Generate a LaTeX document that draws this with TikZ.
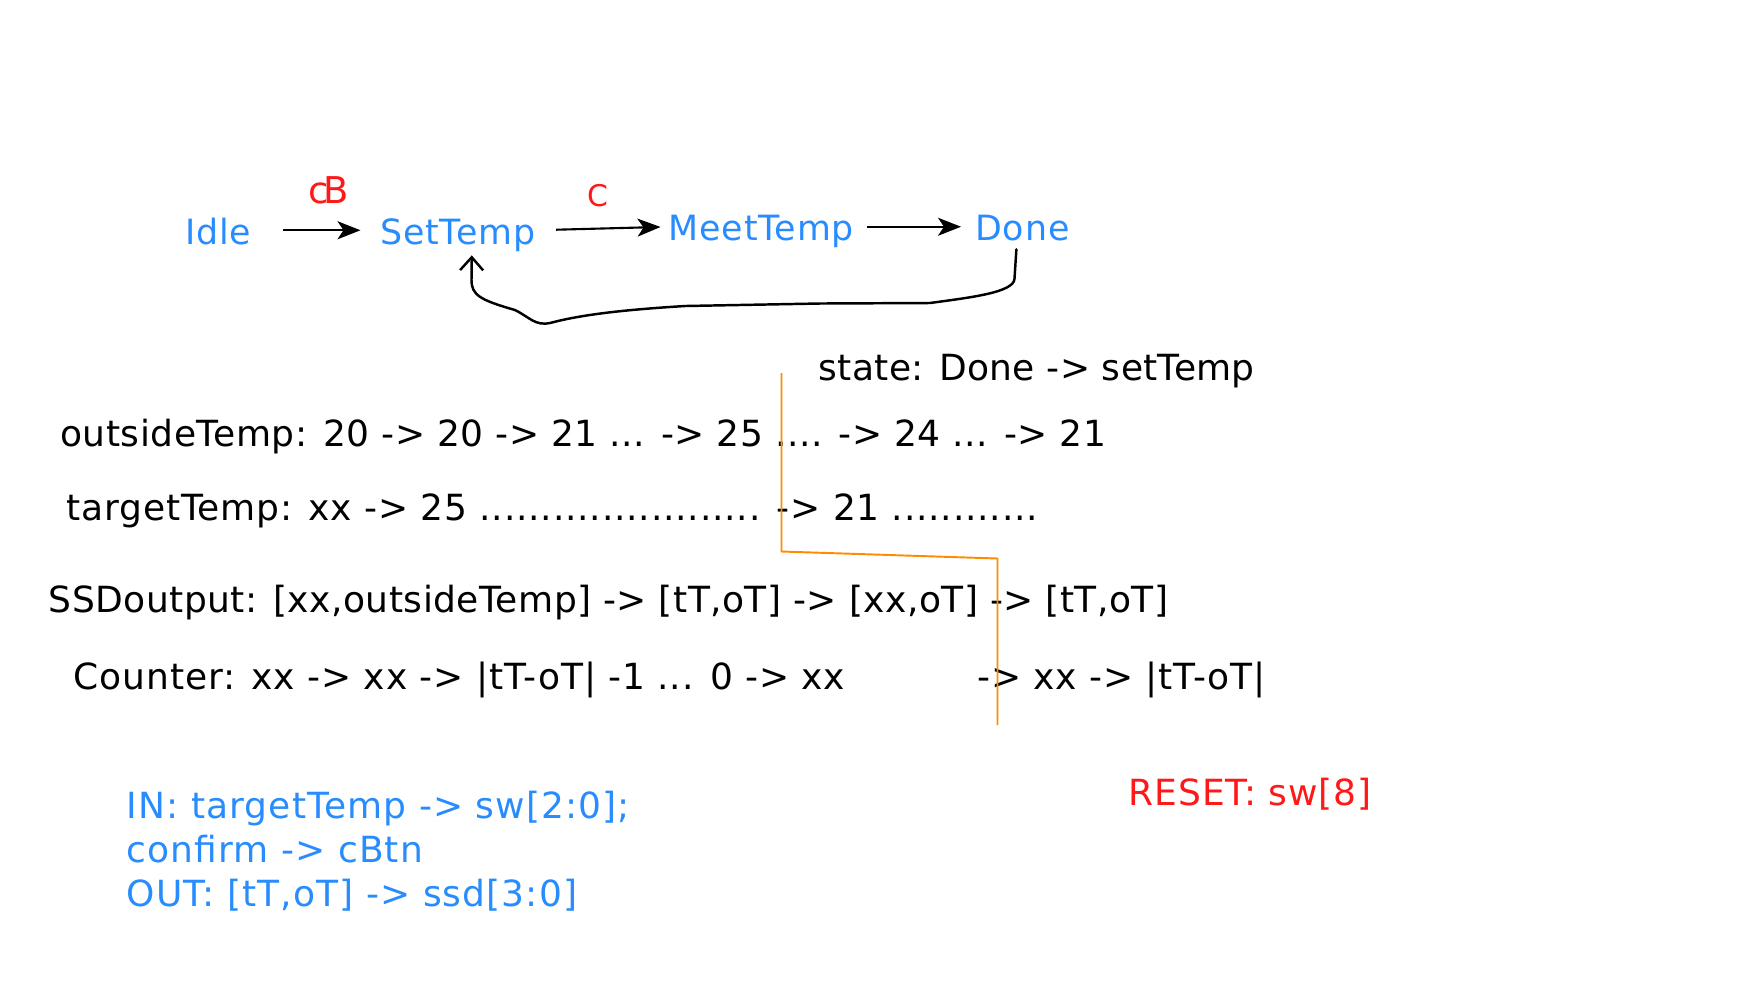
\documentclass[tikz,border=0pt]{standalone}
\usepackage{fontspec}
\setmainfont{DejaVu Sans}
\usetikzlibrary{arrows.meta,positioning}
\definecolor{stateBlue}{RGB}{40,140,255}
\definecolor{penRed}{RGB}{255,24,24}
\definecolor{cutOrange}{RGB}{255,140,0}
\tikzset{
    every node/.append style={inner sep=0pt},
    state/.style={text=stateBlue,font=\fontsize{19.8}{23}\selectfont\addfontfeature{LetterSpace=2.4},
        anchor=base west,text height=0.55cm,text depth=0pt},
    trace/.style={font=\fontsize{20.5}{24}\selectfont\addfontfeature{LetterSpace=1.5},anchor=base west},
    pins/.style={text=stateBlue,font=\fontsize{20.5}{25.2}\selectfont\addfontfeature{LetterSpace=3.0},
        align=left,anchor=north west},
    pen/.style={text=penRed,font=\fontsize{17}{19}\selectfont},
    arr/.style={-{Stealth[length=0.46cm,width=0.36cm,inset=0.12cm]},line width=1.2pt},
    back/.style={-{Straight Barb[length=0.26cm,width=0.46cm]},line width=1.4pt,
        line cap=round,line join=round},
    cut/.style={draw=cutOrange,line width=1.1pt}
}

\begin{document}
\begin{tikzpicture}
    \useasboundingbox (0,0) rectangle (34.82,-19.76);
    % states
    \node[state] (idle)     at ( 3.70,-4.88) {Idle};
    \node[state] (settemp)  at ( 7.60,-4.88) {SetTemp};
    \node[state] (meettemp) at (13.37,-4.81) {MeetTemp};
    \node[state] (done)     at (19.50,-4.81) {Done};

    \draw[arr,shorten <=0.63cm,shorten >=0.39cm] (idle.east) -- node[pen,font=\fontsize{21}{23}\selectfont,above=0.5cm,pos=0.6]{c\kern-0.12em B} (settemp.west);
    \draw[arr,shorten <=0.41cm,shorten >=0.16cm] (settemp.east) -- node[pen,above=0.42cm,pos=0.47]{C} (meettemp.west);
    \draw[arr,shorten <=0.26cm,shorten >=0.28cm] (meettemp.east) -- (done.west);
    \draw[back] ([xshift=-0.12cm,yshift=-0.17cm]done.south) -- (20.29,-5.57)
        .. controls (20.29,-5.85) and (19.4,-5.95) .. (18.6,-6.06) -- (16.4,-6.07) -- (13.7,-6.12)
        .. controls (12.4,-6.2) and (11.6,-6.3) .. (11.0,-6.46)
        .. controls (10.7,-6.52) and (10.6,-6.35) .. (10.3,-6.2)
        .. controls (9.6,-6.0) and (9.43,-5.9) .. (9.43,-5.6)
        -- ([xshift=0.28cm,yshift=-0.22cm]settemp.south);

    % signal traces
    \node[trace,font=\fontsize{20.5}{24}\selectfont\addfontfeature{LetterSpace=0.8}] (state) at (16.37,-7.60) {state: Done -> setTemp};
    \node[trace] (outside) at ( 1.20,-8.93) {outsideTemp: 20 -> 20 -> 21 ... -> 25 .... -> 24 ... -> 21};
    \node[trace,font=\fontsize{20.5}{24}\selectfont\addfontfeature{LetterSpace=2.2}] (target) at ( 1.33,-10.41)
        {targetTemp: xx -> 25 ....................... -> 21 ............};
    \node[trace,font=\fontsize{20.5}{24}\selectfont\addfontfeature{LetterSpace=1.3}] (ssd) at ( 0.97,-12.25)
        {SSDoutput: [xx,outsideTemp] -> [tT,oT] -> [xx,oT] -> [tT,oT]};
    \node[trace,font=\fontsize{20.5}{24}\selectfont\addfontfeature{LetterSpace=2.4}] (counter) at ( 1.47,-13.79)
        {Counter: xx -> xx -> |tT-oT| -1 ... 0 -> xx\hspace{2.64cm}-> xx -> |tT-oT|};

    % cut line
    \draw[cut] (15.63,-7.46) -- (15.63,-11.03) -- (19.95,-11.17) -- (19.95,-14.50);

    % pins
    \node[trace,text=penRed,font=\fontsize{20.5}{24}\selectfont\addfontfeature{LetterSpace=2.3}] (reset) at (22.57,-16.10) {RESET: sw[8]};
    \node[pins] (io) at (2.53,-15.81) {IN: targetTemp -> sw[2:0];\\confirm -> cBtn\\OUT: [tT,oT] -> ssd[3:0]};
\end{tikzpicture}
\end{document}
